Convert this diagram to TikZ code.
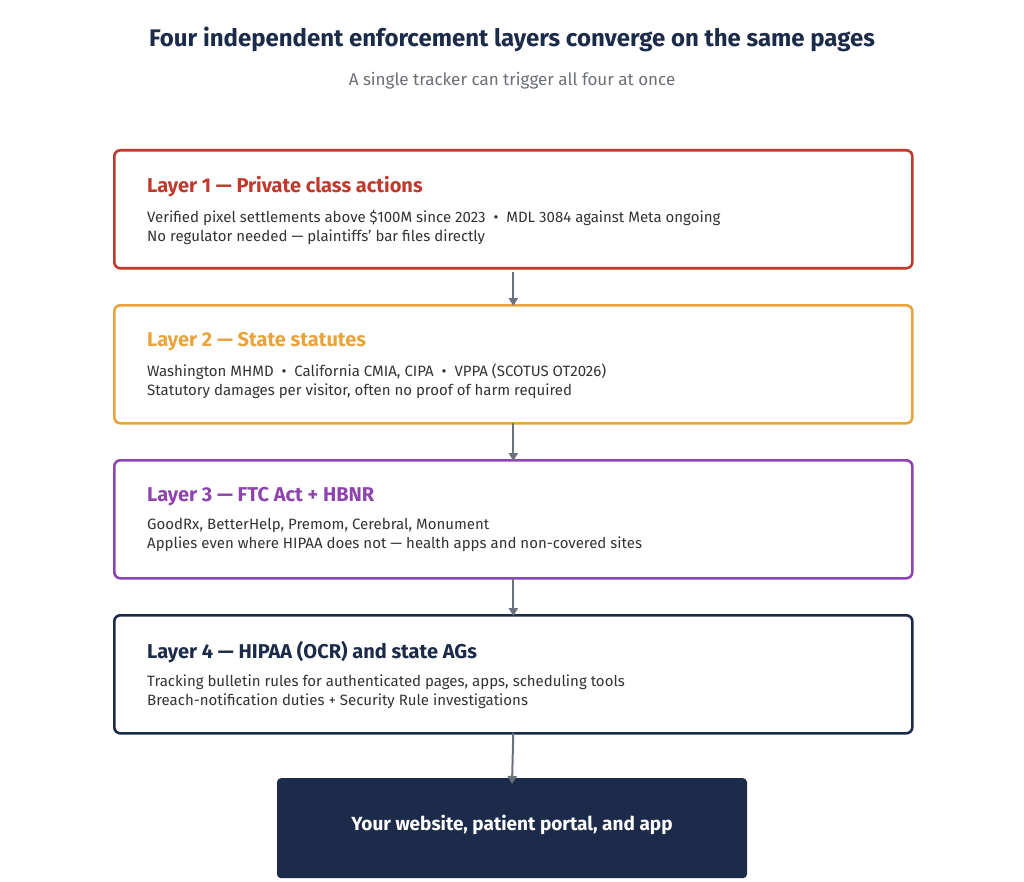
\documentclass[tikz,border=0pt]{standalone}
\usepackage{fontspec}
\setmainfont{Fira Sans}
\usetikzlibrary{positioning, arrows.meta}
\definecolor{navy}{HTML}{1C2B4A}
\definecolor{lred}{HTML}{C0392B}
\definecolor{lorange}{HTML}{E8A33D}
\definecolor{lpurple}{HTML}{8E44AD}
\definecolor{arrowgray}{HTML}{6B717B}
\definecolor{subgray}{HTML}{6B6F76}
\definecolor{bodytext}{HTML}{333333}

\begin{document}
\begin{tikzpicture}[x=1pt, y=-1pt,
    layer/.style={draw, line width=2.6pt, rounded corners=6pt, fill=white,
        minimum width=798pt, minimum height=118pt, anchor=north west, inner sep=0pt},
    head/.style={anchor=west, font=\fontsize{20}{24}\selectfont\bfseries, inner sep=0pt},
    body/.style={anchor=north west, align=left, font=\fontsize{15}{19}\selectfont,
        text=bodytext, inner sep=0pt},
    flow/.style={-{Triangle[length=8pt, width=9pt]}, line width=2pt, arrowgray}
]
\useasboundingbox (0,0) rectangle (1024,882);

% Title
\node[font=\fontsize{24}{28}\selectfont\bfseries, text=navy] (title) at (512,39)
    {Four independent enforcement layers converge on the same pages};
\node[font=\fontsize{17}{20}\selectfont, text=subgray] (sub) at (512,81)
    {A single tracker can trigger all four at once};

% Layer boxes
\node[layer, draw=lred] (l1) at (113,149) {};
\node[layer, draw=lorange] (l2) at (113,304) {};
\node[layer, draw=lpurple] (l3) at (113,459) {};
\node[layer, draw=navy] (l4) at (113,614) {};

% Layer texts
\node[head, text=lred] (h1) at (147,187) {Layer 1 — Private class actions};
\node[body, below right=12pt and 0pt of h1.south west] (b1)
    {Verified pixel settlements above \$100M since 2023 \ • \ MDL 3084 against Meta ongoing\\
     No regulator needed — plaintiffs' bar files directly};
\node[head, text=lorange] (h2) at (147,342) {Layer 2 — State statutes};
\node[body, below right=12pt and 0pt of h2.south west] (b2)
    {Washington MHMD \ • \ California CMIA, CIPA \ • \ VPPA (SCOTUS OT2026)\\
     Statutory damages per visitor, often no proof of harm required};
\node[head, text=lpurple] (h3) at (147,497) {Layer 3 — FTC Act + HBNR};
\node[body, below right=12pt and 0pt of h3.south west] (b3)
    {GoodRx, BetterHelp, Premom, Cerebral, Monument\\
     Applies even where HIPAA does not — health apps and non-covered sites};
\node[head, text=navy] (h4) at (147,652) {Layer 4 — HIPAA (OCR) and state AGs};
\node[body, below right=12pt and 0pt of h4.south west] (b4)
    {Tracking bulletin rules for authenticated pages, apps, scheduling tools\\
     Breach-notification duties + Security Rule investigations};

% Target
\node[fill=navy, rounded corners=4pt, minimum width=470pt, minimum height=100pt,
    anchor=north, text=white, font=\fontsize{19}{22}\selectfont\bfseries,
    text depth=0pt, yshift=0pt] (site) at (512,778) {};
\node[text=white, font=\fontsize{19}{22}\selectfont\bfseries] (sitetext) at (512,825)
    {Your website, patient portal, and app};

% Arrows
\draw[flow] (l1.south) ++(0,2) coordinate (a1) -- ([yshift=-2pt]l2.north);
\draw[flow] ([yshift=2pt]l2.south) -- ([yshift=-2pt]l3.north);
\draw[flow] ([yshift=2pt]l3.south) -- ([yshift=-2pt]l4.north);
\draw[flow] ([yshift=2pt]l4.south) -- ([yshift=-6pt]site.north);
\end{tikzpicture}
\end{document}
